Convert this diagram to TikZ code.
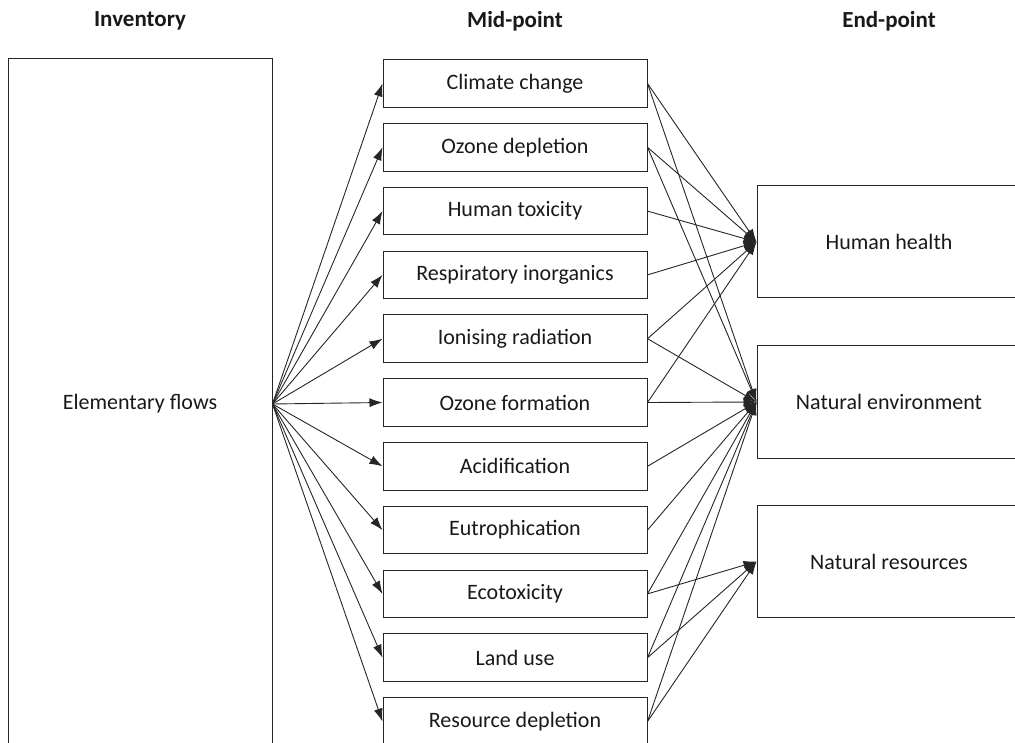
\documentclass[tikz,border=0pt]{standalone}
\usepackage{fontspec}
\setmainfont{Carlito}
\usepackage{tikz}
\usetikzlibrary{arrows.meta}

\begin{document}
\begin{tikzpicture}[x=1pt,y=-1pt,
    box/.style={draw=black!85, line width=1pt, minimum width=264pt, inner sep=0pt,
      text=black!90, font=\fontsize{22}{26}\selectfont},
    head/.style={text=black!90, font=\bfseries\fontsize{23}{27}\selectfont},
    flow/.style={-{Latex[length=13pt,width=9pt]}, line width=0.9pt, draw=black!85}]
  \useasboundingbox (0,0) rectangle (1015,743);
  % column titles
  \node [head] (tinv) at (140,21) {Inventory};
  \node [head] (tmid) at (515,21) {Mid-point};
  \node [head] (tend) at (889,21) {End-point};
  % inventory
  \node [box, minimum height=690pt] (inv) at (140,404) {Elementary flows};
  % mid-points
  \foreach \name [count=\i] in {Climate change, Ozone depletion, Human toxicity,
      Respiratory inorganics, Ionising radiation, Ozone formation, Acidification,
      Eutrophication, Ecotoxicity, Land use, Resource depletion}
    \node [box, minimum height=47.5pt] (m\i) at (515,{83.5+63.8*(\i-1)}) {\name};
  % end-points
  \node [box, minimum height=112pt] (hh) at (889,242) {Human health};
  \node [box, minimum height=112pt] (ne) at (889,402) {Natural environment};
  \node [box, minimum height=112pt] (nr) at (889,561.5) {Natural resources};
  % connectors
  \foreach \i in {1,...,11}
    \draw [flow] (inv.east) -- (m\i.west);
  \foreach \i in {1,...,6}
    \draw [flow] (m\i.east) -- (hh.west);
  \foreach \i in {1,2,5,6,7,8,9,10,11}
    \draw [flow] (m\i.east) -- (ne.west);
  \foreach \i in {9,10,11}
    \draw [flow] (m\i.east) -- (nr.west);
\end{tikzpicture}
\end{document}
